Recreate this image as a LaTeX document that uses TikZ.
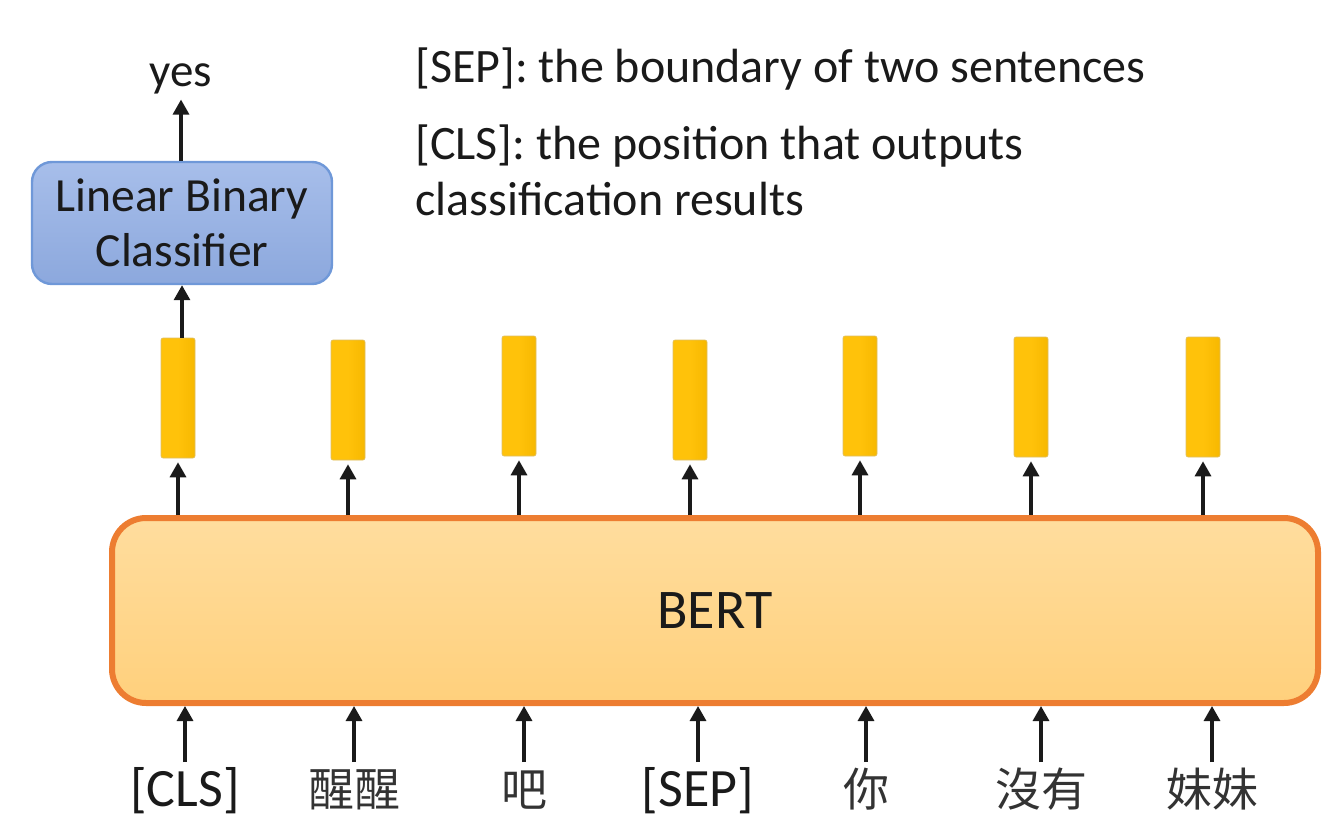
\documentclass[tikz,border=0pt]{standalone}
\usepackage{fontspec}
\setmainfont{Carlito}
\newfontfamily\cjk{Noto Sans CJK TC}
\usetikzlibrary{arrows.meta,positioning}

\definecolor{inkcol}{HTML}{1A1A1A}
\definecolor{cjkcol}{HTML}{333333}
\definecolor{bluefillA}{HTML}{A7BEEA}
\definecolor{bluefillB}{HTML}{8CA8DD}
\definecolor{blueline}{HTML}{6F98D8}
\definecolor{orangeline}{HTML}{ED7D31}
\definecolor{orangefillA}{HTML}{FFDD9E}
\definecolor{orangefillB}{HTML}{FFD07C}
\definecolor{barA}{HTML}{FFC20A}
\definecolor{barB}{HTML}{F7B800}

\tikzset{
  arr/.style={line width=1.6pt, inkcol, -{Triangle[length=7.5pt,width=8pt]}},
  vecbar/.style={rectangle, rounded corners=1pt, minimum width=17pt, minimum height=60pt,
    inner sep=0pt, left color=barA, right color=barB, middle color=barA,
    draw=barB!80!black!60, line width=0.3pt},
  token/.style={inner sep=0pt, outer sep=3pt, anchor=base, text height=19pt, text depth=0pt,
    font=\fontsize{27}{30}\selectfont, text=inkcol},
  cjktoken/.style={token, font=\fontsize{23}{30}\selectfont\cjk, text=cjkcol},
  note/.style={inner sep=0pt, anchor=base west, font=\fontsize{24}{28}\selectfont, text=inkcol},
}

\begin{document}
\begin{tikzpicture}[x=0.5pt, y=-0.5pt]
  \useasboundingbox (0,0) rectangle (1339,819);

  % output label and classifier
  \node[inner sep=0pt, outer sep=3pt, anchor=base, font=\fontsize{23.5}{27}\selectfont, text=inkcol]
    (yes) at (181,86) {yes};
  \node[rectangle, rounded corners=10pt, minimum width=150pt, minimum height=61pt,
        top color=bluefillA, bottom color=bluefillB, draw=blueline, line width=1.2pt,
        align=center, font=\fontsize{23.8}{27.5}\selectfont, text=inkcol]
    (clf) at (182,223) {Linear Binary\\Classifier};

  % explanatory notes
  \node[note] (sepnote) at (415,82) {[SEP]: the boundary of two sentences};
  \node[note] (clsnote) at (415,159) {[CLS]: the position that outputs};
  \node[note] (clsnote2) at (415,215) {classification results};

  % BERT encoder
  \node[rectangle, rounded corners=17pt, minimum width=603pt, minimum height=92.5pt,
        top color=orangefillA, bottom color=orangefillB, draw=orangeline, line width=3pt,
        font=\fontsize{28}{30}\selectfont, text=inkcol]
    (bert) at (715,610.5) {BERT};

  % output vectors
  \node[vecbar] (b1) at (178,398) {};
  \node[vecbar] (b2) at (348,400) {};
  \node[vecbar] (b3) at (519,396) {};
  \node[vecbar] (b4) at (690,400) {};
  \node[vecbar] (b5) at (860,396) {};
  \node[vecbar] (b6) at (1031,397) {};
  \node[vecbar] (b7) at (1203,397) {};

  % input tokens
  \node[token]    (t1) at (185,806) {[CLS]};
  \node[cjktoken] (t2) at (354,806) {醒醒};
  \node[cjktoken] (t3) at (524,806) {吧};
  \node[token]    (t4) at (698,806) {[SEP]};
  \node[cjktoken] (t5) at (866,806) {你};
  \node[cjktoken] (t6) at (1041,806) {沒有};
  \node[cjktoken] (t7) at (1212,806) {妹妹};

  % connectors
  \draw[arr] (clf.north -| yes) -- (yes.south);
  \draw[arr] (b1.north -| clf) -- (clf.south);
  \foreach \i in {1,...,7} {
    \draw[arr, shorten >=2pt] (bert.north -| b\i) -- (b\i.south);
    \draw[arr] (t\i.north) -- (bert.south -| t\i);
  }
\end{tikzpicture}
\end{document}
